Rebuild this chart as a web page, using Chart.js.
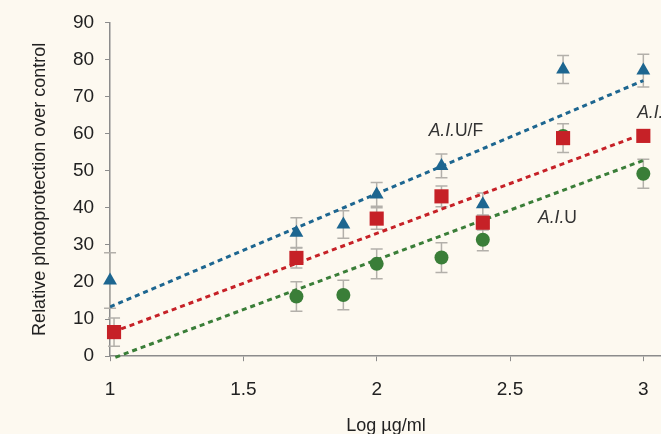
<!DOCTYPE html>
<html>
<head>
<meta charset="utf-8">
<script src="https://cdn.jsdelivr.net/npm/chart.js@4/dist/chart.umd.min.js"></script>
<style>
   html, body { margin: 0; padding: 0; background: #fdf9f0; overflow: hidden; }
   #wrap { position: relative; width: 672px; height: 434px; }
</style>
</head>
<body>
<div id="wrap"><canvas id="canvas"></canvas></div>
<script>
// data
var xTicks = [1, 1.5, 2, 2.5, 3];

var xBlue = [1, 1.699, 1.875, 2, 2.243, 2.398, 2.699, 3];
var yBlue = [20.4, 33.3, 35.5, 43.6, 51.3, 41, 77.3, 77];
var errBlue = [7.5, 4, 3.7, 3.2, 3.2, 3, 3.8, 4.4];

var xRed = [1.015, 1.699, 2, 2.243, 2.398, 2.699, 3];
var yRed = [6.5, 26.5, 37.1, 43.1, 36, 58.8, 59.4];
var errRed = [3.8, 2.7, 2.9, 2.8, 2, 3.9, 0];

var xGreen = [1.699, 1.875, 2, 2.243, 2.398, 2.699, 3];
var yGreen = [16.1, 16.5, 24.9, 26.6, 31.4, 59.4, 49.2];
var errGreen = [4, 4, 4, 4, 3, 0, 3.9];

// dashed trend lines
var xTrendBlue = [1, 3];
var yTrendBlue = [13.3, 74.3];
var xTrendRed = [1.01, 2.96];
var yTrendRed = [6.5, 58.9];
var xTrendGreen = [1.02, 3];
var yTrendGreen = [-0.3, 52.8];

var BLUE = '#1d6690';
var RED = '#c62127';
var GREEN = '#3a7e38';
var FONT = '"Liberation Sans", Arial, sans-serif';

function pts(xs, ys) {
   return xs.map(function (x, i) { return { x: x, y: ys[i] }; });
}

// error bars, drawn behind the markers
var errorBars = {
   id: 'errorBars',
   beforeDatasetsDraw: function (chart) {
      var ctx = chart.ctx;
      var xs = chart.scales.x, ys = chart.scales.y;
      var sets = [[xBlue, yBlue, errBlue], [xRed, yRed, errRed], [xGreen, yGreen, errGreen]];
      ctx.save();
      ctx.strokeStyle = '#b3b0aa';
      ctx.lineWidth = 1.5;
      sets.forEach(function (s) {
         s[0].forEach(function (x, i) {
            var e = s[2][i];
            if (!e) return;
            var px = xs.getPixelForValue(x);
            var top = ys.getPixelForValue(s[1][i] + e);
            var bot = ys.getPixelForValue(s[1][i] - e);
            ctx.beginPath();
            ctx.moveTo(px, top); ctx.lineTo(px, bot);
            ctx.moveTo(px - 6, top); ctx.lineTo(px + 6, top);
            ctx.moveTo(px - 6, bot); ctx.lineTo(px + 6, bot);
            ctx.stroke();
         });
      });
      ctx.restore();
   }
};

// series labels next to the trend lines
var seriesLabels = {
   id: 'seriesLabels',
   afterDatasetsDraw: function (chart) {
      var ctx = chart.ctx;
      var xs = chart.scales.x, ys = chart.scales.y;
      var items = [
         { x: 2.195, y: 59.3, it: 'A.I.', up: 'U/F' },
         { x: 2.977, y: 64.2, it: 'A.I.', up: '' },
         { x: 2.605, y: 36.0, it: 'A.I.', up: 'U' }
      ];
      ctx.save();
      ctx.fillStyle = '#333333';
      ctx.textBaseline = 'alphabetic';
      ctx.textAlign = 'left';
      items.forEach(function (t) {
         var px = xs.getPixelForValue(t.x);
         var py = ys.getPixelForValue(t.y);
         ctx.font = 'italic 17.5px ' + FONT;
         ctx.fillText(t.it, px, py);
         var w = ctx.measureText(t.it).width;
         ctx.font = '17.5px ' + FONT;
         ctx.fillText(t.up, px + w, py);
      });
      ctx.restore();
   }
};

window.onload = function () {
   var ctx = document.getElementById('canvas').getContext('2d');
   window.myChart = new Chart(ctx, {
      type: 'scatter',
      data: {
         datasets: [{
            label: 'A.I.U/F',
            data: pts(xBlue, yBlue),
            pointStyle: 'triangle',
            pointRadius: 8,
            backgroundColor: BLUE,
            borderColor: BLUE,
            borderWidth: 0,
            clip: false,
            order: 1
         }, {
            label: 'A.I.',
            data: pts(xRed, yRed),
            pointStyle: 'rect',
            pointRadius: 10,
            backgroundColor: RED,
            borderColor: RED,
            borderWidth: 0,
            clip: false,
            order: 2
         }, {
            label: 'A.I.U',
            data: pts(xGreen, yGreen),
            pointStyle: 'circle',
            pointRadius: 7,
            backgroundColor: GREEN,
            borderColor: GREEN,
            borderWidth: 0,
            clip: false,
            order: 3
         }, {
            type: 'line',
            data: pts(xTrendBlue, yTrendBlue),
            borderColor: BLUE,
            borderWidth: 3,
            borderDash: [5, 4],
            pointRadius: 0,
            fill: false,
            order: 10
         }, {
            type: 'line',
            data: pts(xTrendRed, yTrendRed),
            borderColor: RED,
            borderWidth: 3,
            borderDash: [5, 4],
            pointRadius: 0,
            fill: false,
            order: 10
         }, {
            type: 'line',
            data: pts(xTrendGreen, yTrendGreen),
            borderColor: GREEN,
            borderWidth: 3,
            borderDash: [5, 4],
            pointRadius: 0,
            fill: false,
            clip: false,
            order: 10
         }]
      },
      options: {
         responsive: true,
         maintainAspectRatio: false,
         animation: false,
         layout: { padding: { left: 29, top: 21, right: 0, bottom: -3 } },
         plugins: {
            legend: { display: false },
            tooltip: { enabled: false }
         },
         scales: {
            x: {
               type: 'linear',
               min: 1,
               max: 3.07,
               afterBuildTicks: function (scale) {
                  scale.ticks = xTicks.map(function (v) { return { value: v }; });
               },
               afterFit: function (scale) {
                  scale.paddingLeft = 0;
                  scale.paddingRight = 0;
               },
               grid: { drawOnChartArea: false, tickLength: 5, color: '#8c8c8c' },
               border: { color: '#8c8c8c', width: 1.5 },
               ticks: {
                  padding: 18.6,
                  color: '#222222',
                  maxRotation: 0,
                  font: { size: 19, family: FONT, lineHeight: 1 },
                  callback: function (v) { return String(v); }
               },
               title: {
                  display: true,
                  text: 'Log µg/ml',
                  color: '#222222',
                  padding: { top: -2, bottom: 0 },
                  font: { size: 18, family: FONT }
               }
            },
            y: {
               min: 0,
               max: 90,
               ticks: {
                  stepSize: 10,
                  padding: 11,
                  color: '#222222',
                  font: { size: 19, family: FONT }
               },
               grid: { drawOnChartArea: false, tickLength: 5, color: '#8c8c8c' },
               border: { color: '#8c8c8c', width: 1.5 },
               title: {
                  display: true,
                  text: 'Relative photoprotection over control',
                  color: '#222222',
                  padding: { top: 0, bottom: 11.3 },
                  font: { size: 18, family: FONT }
               }
            }
         }
      },
      plugins: [errorBars, seriesLabels]
   });
};
</script>
</body>
</html>
